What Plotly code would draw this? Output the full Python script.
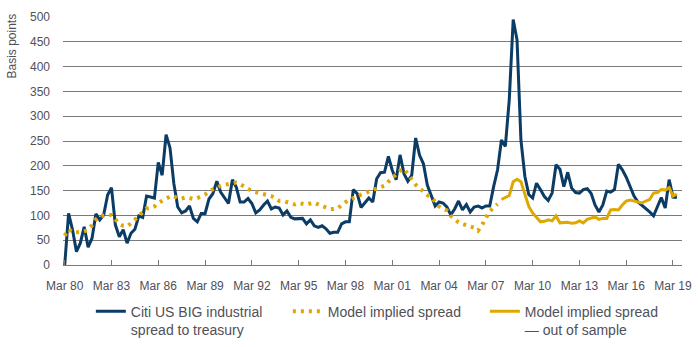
import pandas as pd
import plotly.graph_objects as go

# Quarterly dates, Mar 1980 .. Jun 2019
dates = pd.date_range("1980-03-31", "2019-06-30", freq="QE")

citi_spread = [
    0, 104, 71, 27, 44, 77, 36, 54, 103, 91, 101, 141, 156, 81, 57, 71, 44, 64, 72, 99,
    96, 139, 137, 135, 207, 181, 263, 236, 164, 117, 105, 109, 119, 94, 87, 104, 104, 133,
    144, 169, 147, 136, 124, 172, 157, 127, 127, 134, 124, 105, 111, 121, 129, 113, 117, 115,
    101, 109, 96, 93, 93, 94, 83, 91, 79, 76, 79, 73, 64, 66, 66, 83, 87,
    87, 152, 144, 116, 125, 135, 127, 174, 186, 187, 219, 191, 172, 222, 184, 169, 181, 256,
    221, 204, 161, 141, 119, 127, 125, 117, 101, 113, 129, 111, 122, 107, 117, 119, 115, 119,
    119, 158, 192, 252, 239, 333, 495, 454, 252, 179, 142, 135, 165, 152, 138, 130, 145, 202,
    193, 158, 187, 155, 146,
    145, 152, 154, 144, 121, 107, 121, 149, 147, 152, 203, 192, 177, 157, 139, 127, 121, 114,
    107, 99, 117, 136, 115, 172, 137, 136,
]

model_in_sample = [
    59, 72, 66, 65, 66, 68, 71, 80, 92, 98,
    100, 101, 101, 92, 83, 79, 78, 84, 92, 101,
    108, 114, 115, 118, 125, 130, 134, 138, 139, 134,
    134, 136, 135, 133, 135, 138, 142, 149, 153, 156,
    160, 163, 163, 164, 166, 163, 158, 153, 149, 147,
    145, 141, 139, 139, 134, 129, 129, 127, 123, 122,
    125, 124, 122, 124, 126, 122, 119, 116, 113, 113,
    114, 121, 127, 132, 135, 137, 142, 145, 148, 150,
    152, 156, 160, 168, 176, 182, 190, 194, 185, 173,
    162, 155, 149, 141, 137, 127, 118, 113, 110, 99,
    92, 86, 83, 80, 77, 75, 69, 80, 95, 108,
    116, 123,
]

model_out_of_sample = [
    132, 136, 140, 168, 173, 168, 142, 118, 105, 95,
    87, 88, 91, 89, 99, 85, 86, 86, 84, 85,
    89, 85, 92, 94, 97, 92, 94, 94, 111, 112,
    111, 121, 129, 131, 129, 127, 125, 129, 132, 145,
    146, 152, 151, 156, 139, 143,
]

tick_dates = [d for d in pd.date_range("1980-03-31", "2019-12-31", freq="QE")
              if d.month == 3 and (d.year - 1980) % 3 == 0]

n_in = len(model_in_sample)
n_out = len(model_out_of_sample)

BLUE = "#0b3c66"
GOLD = "#dfa800"
GRID = "#7a7a7a"
TXT = "#505058"
FONT = "Liberation Sans, Arial, sans-serif"

fig = go.Figure()
fig.add_trace(go.Scatter(
    x=dates, y=citi_spread, mode="lines",
    name="Citi US BIG industrial<br>spread to treasury",
    line=dict(color=BLUE, width=3),
))
fig.add_trace(go.Scatter(
    x=dates[:n_in], y=model_in_sample, mode="lines",
    name="Model implied spread",
    line=dict(color=GOLD, width=4, dash="3px,5px"),
))
fig.add_trace(go.Scatter(
    x=dates[len(dates) - n_out:], y=model_out_of_sample, mode="lines",
    name="Model implied spread<br>— out of sample",
    line=dict(color=GOLD, width=3),
))

fig.update_layout(
    width=700, height=347,
    margin=dict(l=63, r=18, t=17, b=82, autoexpand=False),
    paper_bgcolor="white", plot_bgcolor="white",
    font=dict(family=FONT, color=TXT, size=12),
    showlegend=True,
    legend=dict(
        orientation="h", x=0.045, xanchor="left", y=-0.124, yanchor="top",
        entrywidth=152, entrywidthmode="pixels", valign="top",
        font=dict(size=14, color=TXT, family=FONT),
        bgcolor="rgba(0,0,0,0)", traceorder="normal",
    ),
    xaxis=dict(
        type="date", range=["1980-02-20", "2019-10-28"],
        tickvals=tick_dates, tickformat="%b %y",
        ticks="inside", ticklen=5, tickcolor=GRID, tickwidth=1,
        showgrid=False, showline=True, linecolor=GRID, linewidth=1,
        tickfont=dict(size=12, color=TXT, family=FONT),
        ticklabelstandoff=10, zeroline=False,
    ),
    yaxis=dict(
        range=[0, 500], dtick=50, tick0=0,
        showgrid=True, gridcolor=GRID, gridwidth=1,
        zeroline=False, showline=False, ticks="",
        tickfont=dict(size=12, color=TXT, family=FONT),
        ticklabelstandoff=12,
    ),
    annotations=[dict(
        text="Basis points", xref="paper", yref="paper",
        x=-0.0816, y=0.883, xanchor="center", yanchor="middle",
        textangle=-90, showarrow=False,
        font=dict(size=12, color=TXT, family=FONT),
    )],
)

fig.write_html("out.html")
